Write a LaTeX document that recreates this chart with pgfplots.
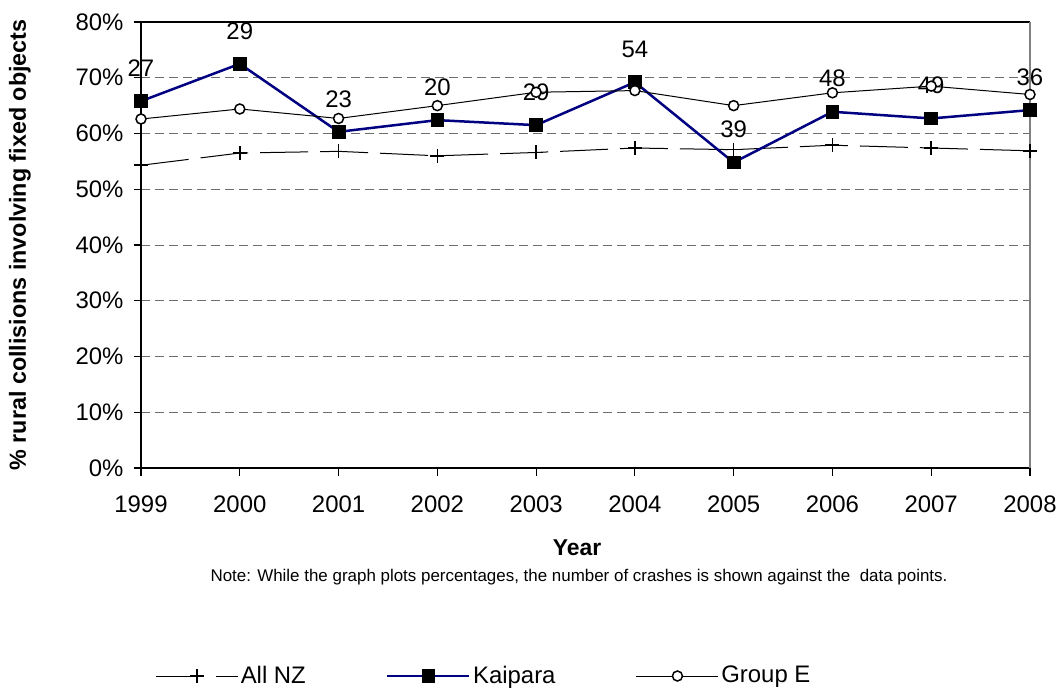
\documentclass[border=0pt]{standalone}
\usepackage{fontspec}
\setmainfont{Liberation Sans}
\usepackage{pgfplots}
\pgfplotsset{compat=1.18}
\usepackage{pgfplotstable}

\pgfplotstableread{
x y
0 54.3
1 56.5
2 56.8
3 56.0
4 56.6
5 57.4
6 57.1
7 57.9
8 57.4
9 56.9
}\allnz

\pgfplotstableread{
x y lab
0 65.8 27
1 72.5 29
2 60.3 23
3 62.4 20
4 61.5 29
5 69.2 54
6 54.8 39
7 63.9 48
8 62.7 49
9 64.2 36
}\kaipara

\pgfplotstableread{
x y
0 62.6
1 64.4
2 62.7
3 65.0
4 67.4
5 67.7
6 65.0
7 67.3
8 68.5
9 67.0
}\groupe

\definecolor{navyk}{RGB}{0,0,128}
\definecolor{gridgray}{RGB}{110,110,110}

\begin{document}
\begin{tikzpicture}
\path[use as bounding box] (0,0) rectangle (530.5bp,344.5bp);
\begin{axis}[
  at={(70.5bp,110.5bp)}, anchor=south west,
  scale only axis, width=444.5bp, height=223bp,
  xmin=0, xmax=9, ymin=0, ymax=80,
  clip=false,
  axis x line*=bottom, axis y line*=left,
  axis line style={-, black, line width=0.75bp},
  tick align=outside,
  major tick length=3.75bp,
  tick style={black, line width=0.6bp},
  xtick={0,1,2,3,4,5,6,7,8,9},
  xticklabels={1999,2000,2001,2002,2003,2004,2005,2006,2007,2008},
  ytick={0,10,20,30,40,50,60,70,80},
  yticklabels={0\%,10\%,20\%,30\%,40\%,50\%,60\%,70\%,80\%},
  tick label style={font=\fontsize{12}{14}\selectfont},
  xticklabel style={yshift=-6.5bp},
  yticklabel style={xshift=-1.5bp},
  ymajorgrids,
  major grid style={gridgray, line width=0.5bp, dash pattern=on 4.5bp off 2.5bp},
  ylabel={\% rural collisions involving fixed objects},
  ylabel style={at={(axis description cs:-0.1361,0.5)}, anchor=center, font=\bfseries\fontsize{11.7}{14}\selectfont},
  xlabel={Year},
  xlabel style={at={(axis description cs:0.4904,-0.1794)}, anchor=center, font=\bfseries\fontsize{11.5}{14}\selectfont},
  legend columns=3,
  legend cell align=left,
  legend style={draw=none, fill=none, at={(axis description cs:0.0157,-0.4664)}, anchor=west, inner sep=0pt,
    font=\fontsize{12}{14}\selectfont,
    nodes={inner sep=1.2bp},
    /tikz/every even column/.append style={column sep=39bp}},
  legend image code/.code={\draw[mark repeat=2,mark phase=2,#1] plot coordinates {(0bp,0bp) (20.5bp,0bp) (41bp,0bp)};},
]
\addplot[black, line width=0.5bp, dash pattern=on 24bp off 6bp, mark=+, mark size=3.5bp, mark options={solid, line width=0.8bp}]
  table[x=x, y=y] {\allnz};
\addlegendentry{All NZ}
\addplot[navyk, line width=1.25bp, mark=square*, mark size=3.2bp, mark options={solid, draw=black, fill=black, line width=0.4bp},
  nodes near coords, point meta=explicit symbolic,
  every node near coord/.append style={anchor=center, yshift=16.5bp, text=black, font=\fontsize{12}{14}\selectfont}]
  table[x=x, y=y, meta=lab] {\kaipara};
\addlegendentry{Kaipara}
\addplot[black, line width=0.5bp, mark=*, mark size=2.5bp, mark options={solid, draw=black, fill=white, line width=0.75bp}]
  table[x=x, y=y] {\groupe};
\addlegendentry{Group E}
\draw[black, line width=0.75bp] (rel axis cs:0,1) -- (rel axis cs:1,1);
\draw[gray, line width=0.75bp] (rel axis cs:1,0) -- (rel axis cs:1,1);
\node[font=\fontsize{8.5}{10}\selectfont] at (axis description cs:0.4927,-0.2444)
  {Note: While the graph plots percentages, the number of crashes is shown against the \ data points.};
\end{axis}
\end{tikzpicture}
\end{document}
